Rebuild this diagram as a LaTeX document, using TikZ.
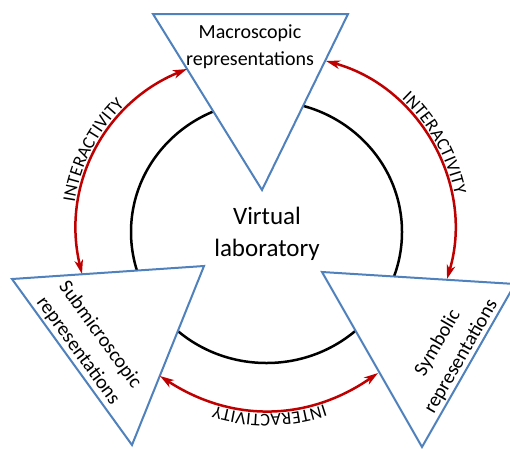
\documentclass[tikz,border=0pt]{standalone}
\usepackage{fontspec}
\setmainfont{Carlito}
\usetikzlibrary{arrows.meta,decorations.text}
\definecolor{triblue}{RGB}{79,129,189}
\definecolor{arrred}{RGB}{192,0,0}
\newcommand\arcfont{\fontsize{18}{20}\selectfont}
\begin{document}
\begin{tikzpicture}[x=1pt,y=-1pt,
  tri/.style={draw=triblue,line width=2pt,fill=white,line join=miter},
  interarrow/.style={draw=arrred,line width=2.5pt,{Stealth[length=14pt,width=8.5pt,inset=4pt]}-{Stealth[length=14pt,width=8.5pt,inset=4pt]}},
  arctext/.style={decorate,decoration={text along path,text={|\arcfont|INTERACTIVITY},text align=center,raise=4pt}},
  replabel/.style={align=center,font=\fontsize{20}{27}\selectfont,inner sep=0pt}]
\useasboundingbox (0,0) rectangle (510,448);
\fill[white] (0,0) rectangle (510,448);
% central ring
\draw[line width=2.5pt] (266.5,232) ellipse [x radius=135.5, y radius=131];
% triangles
\coordinate (M1) at (153,14);
\coordinate (M2) at (348,14);
\coordinate (M3) at (262,190);
\coordinate (S1) at (12,279);
\coordinate (S2) at (204,266);
\coordinate (S3) at (132,445);
\coordinate (Y1) at (322,272);
\coordinate (Y2) at (515,284);
\coordinate (Y3) at (422,447);
\draw[tri] (M1) -- (M2) -- (M3) -- cycle;
\draw[tri] (S1) -- (S2) -- (S3) -- cycle;
\draw[tri] (Y1) -- (Y2) -- (Y3) -- cycle;
% labels
\node[replabel] (macro) at (250,47) {Macroscopic\\representations};
\node[align=center,font=\fontsize{25}{32}\selectfont,inner sep=0pt] (virt) at (267,234) {Virtual\\laboratory};
\node[replabel,rotate=-54] (submicro) at (89,343) {Submicroscopic\\representations};
\node[replabel,rotate=60] (symb) at (449.5,350) {Symbolic\\representations};
% arrow ends
\coordinate (Ma) at (187,69);
\coordinate (Mb) at (326,61);
\coordinate (Sa) at (82,274);
\coordinate (Sb) at (160,376);
\coordinate (Ya) at (447,279);
\coordinate (Yb) at (378,373);
\draw[interarrow] (Sa) to[bend left=40.7] (Ma);
\path[arctext] (Sa) to[bend left=40.7] (Ma);
\draw[interarrow] (Mb) to[bend left=45.7] (Ya);
\path[arctext] (Mb) to[bend left=45.7] (Ya);
\draw[interarrow] (Yb) to[bend left=34] (Sb);
\path[arctext] (Yb) to[bend left=34] (Sb);
\end{tikzpicture}
\end{document}
